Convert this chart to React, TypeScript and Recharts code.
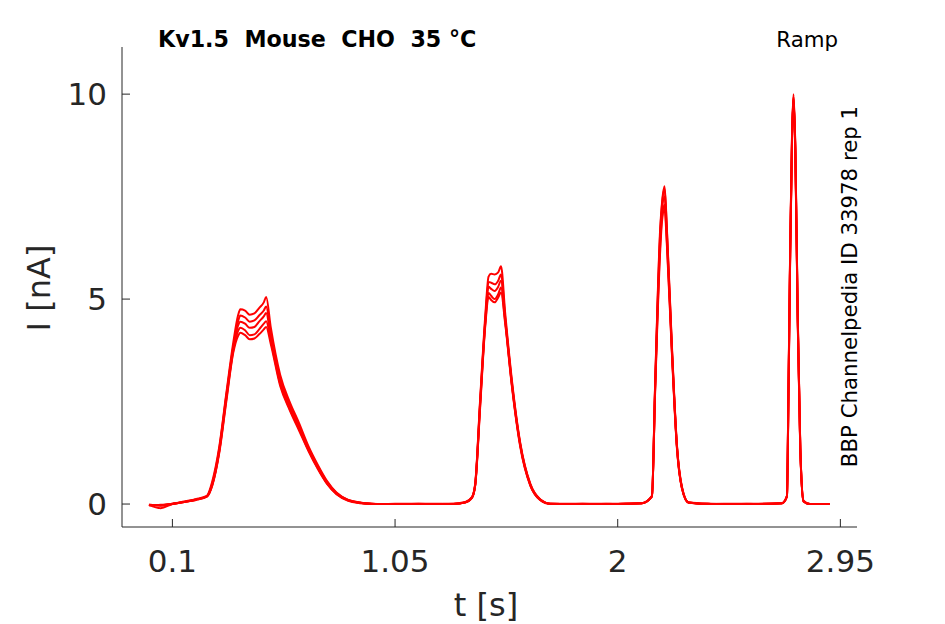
import { Line, LineChart, XAxis, YAxis } from "recharts";

// sweep time [s]
const time = [
  0, 0.05, 0.1, 0.15, 0.2, 0.247,
  0.27, 0.3, 0.33, 0.36, 0.38, 0.39, 0.41, 0.43, 0.45, 0.47, 0.49, 0.5,
  0.52, 0.56, 0.6, 0.64, 0.68, 0.72, 0.76, 0.8, 0.85, 0.9, 0.95, 1.0,
  1.1, 1.2, 1.3, 1.35, 1.378, 1.392,
  1.413, 1.435, 1.449, 1.46, 1.475, 1.49, 1.502, 1.52, 1.549, 1.584, 1.627, 1.669, 1.712,
  1.8, 1.9, 2.0, 2.103, 2.146,
  2.16, 2.1815, 2.189, 2.2, 2.21, 2.231, 2.253, 2.274, 2.302,
  2.4, 2.5, 2.6, 2.701, 2.722,
  2.729, 2.736, 2.744, 2.75, 2.758, 2.768, 2.779, 2.793, 2.82, 2.86, 2.904,
];

// current [nA], one array per repetition
const rep1 = [
  -0.02, -0.04, 0.0, 0.06, 0.12, 0.2,
  0.55, 1.4, 2.7, 3.95, 4.6, 4.75, 4.72, 4.62, 4.65, 4.78, 4.92, 5.05,
  4.3, 3.15, 2.5, 1.98, 1.42, 0.96, 0.56, 0.28, 0.1, 0.04, 0.01, 0.0,
  0.0, 0.0, 0.01, 0.05, 0.17, 0.5,
  2.55, 4.6, 5.55, 5.62, 5.6, 5.65, 5.8, 4.65, 3.0, 1.5, 0.5, 0.12, 0.01,
  0, 0, 0, 0.02, 0.2,
  3.0, 6.75, 7.35, 7.75, 6.7, 3.9, 1.42, 0.42, 0.04,
  0, 0, 0, 0.02, 0.2,
  3.0, 6.3, 9.1, 10.0, 8.7, 4.65, 1.4, 0.08, 0, 0, 0,
];
const rep2 = [
  -0.03, -0.02, 0.01, 0.05, 0.11, 0.19,
  0.5, 1.35, 2.65, 3.85, 4.45, 4.6, 4.55, 4.45, 4.48, 4.6, 4.72, 4.82,
  4.15, 3.05, 2.42, 1.92, 1.38, 0.93, 0.54, 0.27, 0.1, 0.03, 0.01, 0.0,
  0.0, 0.01, 0.0, 0.04, 0.16, 0.48,
  2.5, 4.5, 5.42, 5.4, 5.36, 5.45, 5.6, 4.55, 2.95, 1.47, 0.48, 0.11, 0.01,
  0, 0.01, 0, 0.02, 0.19,
  2.95, 6.65, 7.3, 7.7, 6.65, 3.85, 1.4, 0.4, 0.04,
  0, 0, 0.01, 0.02, 0.19,
  2.95, 6.25, 9.05, 9.95, 8.65, 4.6, 1.38, 0.07, 0, 0, 0,
];
const rep3 = [
  -0.02, -0.1, 0.0, 0.05, 0.11, 0.19,
  0.48, 1.3, 2.6, 3.8, 4.35, 4.45, 4.4, 4.3, 4.32, 4.45, 4.58, 4.66,
  4.05, 2.98, 2.38, 1.88, 1.35, 0.9, 0.52, 0.26, 0.09, 0.03, 0.01, 0.0,
  0.01, 0.0, 0.0, 0.04, 0.16, 0.47,
  2.45, 4.45, 5.3, 5.25, 5.2, 5.3, 5.45, 4.5, 2.9, 1.45, 0.47, 0.11, 0.01,
  0.01, 0, 0, 0.02, 0.19,
  2.9, 6.5, 7.15, 7.5, 6.55, 3.8, 1.38, 0.4, 0.04,
  0, 0.01, 0, 0.02, 0.19,
  2.9, 6.2, 9.0, 9.92, 8.6, 4.55, 1.36, 0.07, 0, 0, 0,
];
const rep4 = [
  -0.03, -0.03, 0.0, 0.05, 0.1, 0.18,
  0.46, 1.28, 2.55, 3.75, 4.22, 4.3, 4.24, 4.12, 4.14, 4.26, 4.4, 4.46,
  3.98, 2.93, 2.33, 1.84, 1.32, 0.88, 0.5, 0.25, 0.09, 0.03, 0.0, 0.0,
  0.0, 0.0, 0.01, 0.04, 0.15, 0.46,
  2.4, 4.4, 5.15, 5.08, 5.0, 5.12, 5.28, 4.45, 2.88, 1.43, 0.46, 0.1, 0.01,
  0, 0, 0.01, 0.02, 0.18,
  2.85, 6.35, 7.0, 7.3, 6.4, 3.75, 1.36, 0.39, 0.04,
  0.01, 0, 0, 0.02, 0.18,
  2.85, 6.15, 8.95, 9.9, 8.55, 4.5, 1.34, 0.07, 0, 0, 0,
];
const rep5 = [
  -0.02, -0.03, 0.01, 0.05, 0.1, 0.18,
  0.45, 1.25, 2.5, 3.7, 4.1, 4.18, 4.12, 4.02, 4.04, 4.14, 4.26, 4.32,
  3.9, 2.88, 2.3, 1.8, 1.3, 0.86, 0.49, 0.24, 0.08, 0.02, 0.0, 0.0,
  0.0, 0.0, 0.0, 0.04, 0.15, 0.45,
  2.35, 4.35, 5.05, 4.98, 4.92, 5.04, 5.16, 4.4, 2.85, 1.4, 0.45, 0.1, 0.0,
  0, 0, 0, 0.02, 0.18,
  2.8, 6.2, 6.9, 7.2, 6.3, 3.7, 1.34, 0.38, 0.03,
  0, 0, 0, 0.02, 0.18,
  2.8, 6.1, 8.9, 9.88, 8.5, 4.45, 1.32, 0.06, 0, 0, 0,
];

const reps = [rep1, rep2, rep3, rep4, rep5];
const xTicks = [0.1, 1.05, 2, 2.95];
const yTicks = [0, 5, 10];

const data = time.map((t, i) => {
  const row: Record<string, number> = { t };
  reps.forEach((r, k) => (row[`r${k}`] = r[i]));
  return row;
});

const INK = "#262626";
const FONT = "DejaVu Sans, sans-serif";

function YTick({ x, y, payload }: any) {
  return (
    <g>
      <line x1={x} x2={x + 8} y1={y} y2={y} stroke={INK} strokeWidth={1} />
      <text x={x - 15} y={y} dy="0.36em" textAnchor="end" fontSize={31} fontFamily={FONT} fill={INK}>
        {payload.value}
      </text>
    </g>
  );
}

function XTick({ x, y, payload }: any) {
  return (
    <g>
      <line x1={x} x2={x} y1={y} y2={y - 8} stroke={INK} strokeWidth={1} />
      <text x={x} y={y + 45} textAnchor="middle" fontSize={31} fontFamily={FONT} fill={INK}>
        {payload.value}
      </text>
    </g>
  );
}

export default function App() {
  return (
    <div style={{ position: "absolute", left: 0, top: 0, width: 945, height: 624, background: "#fff" }}>
      <LineChart width={945} height={624} data={data} margin={{ top: 47, right: 88, bottom: 96, left: 121 }}>
        <XAxis
          dataKey="t"
          type="number"
          domain={[-0.115, 3.021]}
          ticks={xTicks}
          allowDataOverflow
          height={1}
          tickSize={0}
          tickMargin={0}
          tickLine={false}
          axisLine={{ stroke: INK, strokeWidth: 1 }}
          tick={<XTick />}
          interval={0}
        />
        <YAxis
          type="number"
          domain={[-0.56, 11.15]}
          ticks={yTicks}
          allowDataOverflow
          width={1}
          tickSize={0}
          tickMargin={0}
          tickLine={false}
          axisLine={{ stroke: INK, strokeWidth: 1 }}
          tick={<YTick />}
          interval={0}
        />
        {reps.map((_, k) => (
          <Line
            key={k}
            dataKey={`r${k}`}
            type="monotone"
            stroke="#ff0000"
            strokeWidth={2}
            dot={false}
            isAnimationActive={false}
          />
        ))}
      </LineChart>
      <svg width={945} height={624} style={{ position: "absolute", left: 0, top: 0, pointerEvents: "none" }}>
        <text x={158} y={47} fontSize={22.2} fontWeight="bold" fontFamily={FONT} fill="#000">
          {"Kv1.5\u00a0\u00a0Mouse\u00a0\u00a0CHO\u00a0\u00a035 °C"}
        </text>
        <text x={838} y={47} textAnchor="end" fontSize={21.3} fontFamily={FONT} fill="#000">
          Ramp
        </text>
        <text
          transform="translate(857,286.5) rotate(-90)"
          textAnchor="middle"
          fontSize={21.3}
          fontFamily={FONT}
          fill="#000"
        >
          BBP Channelpedia ID 33978 rep 1
        </text>
        <text transform="translate(50,288) rotate(-90)" textAnchor="middle" fontSize={32} fontFamily={FONT} fill={INK}>
          I [nA]
        </text>
        <text x={486} y={616} textAnchor="middle" fontSize={32} fontFamily={FONT} fill={INK}>
          t [s]
        </text>
      </svg>
    </div>
  );
}
